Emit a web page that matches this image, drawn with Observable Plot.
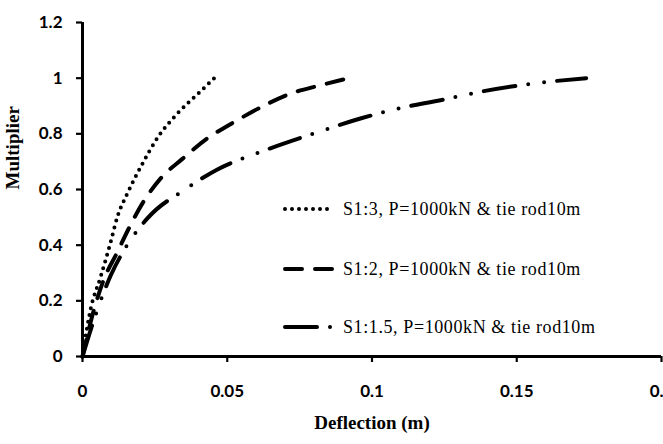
<!DOCTYPE html>
<html>
<head>
<meta charset="utf-8">
<script src="https://cdn.jsdelivr.net/npm/d3@7"></script>
<script src="https://cdn.jsdelivr.net/npm/@observablehq/plot@0.6"></script>
<style>
  html, body { margin: 0; padding: 0; background: #fff; overflow: hidden; }
  #wrap { position: relative; width: 663px; height: 444px; }
  #legend { position: absolute; left: 283px; top: 0; font-family: "Liberation Serif", "Times New Roman", serif; font-size: 18px; letter-spacing: 0.6px; color: #000; }
  .item { position: absolute; left: 0; display: flex; align-items: center; white-space: nowrap; }
  .item svg { display: block; margin-right: 8px; }
</style>
</head>
<body>
<div id="wrap"><div id="legend"></div></div>
<script>
// Series S1:3 (dotted)
const s13Deflection = [0, 0.0028, 0.0062, 0.0097, 0.012, 0.0155, 0.020, 0.026, 0.0328, 0.040, 0.0455];
const s13Multiplier = [0, 0.17, 0.284, 0.41, 0.50, 0.586, 0.679, 0.787, 0.873, 0.945, 1.0];
// Series S1:2 (dashed)
const s12Deflection = [0, 0.004, 0.0075, 0.012, 0.0155, 0.0207, 0.027, 0.0345, 0.043, 0.052, 0.0615, 0.072, 0.082, 0.092];
const s12Multiplier = [0, 0.17, 0.28, 0.374, 0.45, 0.55, 0.64, 0.71, 0.783, 0.84, 0.895, 0.945, 0.974, 1.0];
// Series S1:1.5 (dash-dot-dot)
const s115Deflection = [0, 0.0052, 0.0097, 0.0148, 0.0224, 0.036, 0.0466, 0.062, 0.0795, 0.096, 0.1075, 0.1247, 0.1364, 0.153, 0.174];
const s115Multiplier = [0, 0.17, 0.29, 0.39, 0.496, 0.604, 0.672, 0.737, 0.80, 0.855, 0.887, 0.923, 0.949, 0.977, 1.0];

const seriesNames = ["S1:3, P=1000kN & tie rod10m", "S1:2, P=1000kN & tie rod10m", "S1:1.5, P=1000kN & tie rod10m"];
const xTicks = [0, 0.05, 0.1, 0.15, 0.2];
const yTicks = [0, 0.2, 0.4, 0.6, 0.8, 1, 1.2];
const xTitle = "Deflection (m)";
const yTitle = "Multiplier";

const dashes = ["0,7", "17,13", "32,13,0,16,0,13"];

const toRows = (xs, ys, name) => xs.map((x, i) => ({x, y: ys[i], name}));
const rows = [
  toRows(s13Deflection, s13Multiplier, seriesNames[0]),
  toRows(s12Deflection, s12Multiplier, seriesNames[1]),
  toRows(s115Deflection, s115Multiplier, seriesNames[2])
];

const tickFont = "Lato, 'Open Sans', sans-serif";

const chart = Plot.plot({
  width: 663,
  height: 444,
  marginLeft: 82,
  marginRight: 2,
  marginTop: 22,
  marginBottom: 88,
  style: { background: "#fff", overflow: "hidden" },
  x: { domain: [0, 0.2] },
  y: { domain: [0, 1.2] },
  marks: [
    Plot.axisY({ticks: yTicks, tickSize: 6, tickPadding: 14, strokeWidth: 2.2, tickFormat: d => String(d), fontSize: 17, fontWeight: "bold", fontFamily: tickFont, label: null}),
    Plot.axisX({ticks: xTicks, tickSize: 6, tickPadding: 22, strokeWidth: 2.2, tickFormat: d => String(d), fontSize: 17, fontWeight: "bold", fontFamily: tickFont, label: null}),
    Plot.ruleY([0], {strokeWidth: 3}),
    Plot.ruleX([0], {strokeWidth: 3}),
    ...rows.map((r, i) => Plot.line(r, {x: "x", y: "y", curve: "monotone-x", stroke: "#000", strokeWidth: 4, strokeLinecap: "round", strokeDasharray: dashes[i]})),
    Plot.text([xTitle], {frameAnchor: "bottom", dy: 72, fontFamily: "'Liberation Serif', serif", fontWeight: "bold", fontSize: 19}),
    Plot.text([yTitle], {frameAnchor: "left", dx: -70, rotate: -90, fontFamily: "'Liberation Serif', serif", fontWeight: "bold", fontSize: 19})
  ]
});
document.getElementById("wrap").prepend(chart);

// Legend
const legend = d3.select("#legend");
const legendTops = [209, 269, 327];
seriesNames.forEach((name, i) => {
  const item = legend.append("div").attr("class", "item").style("top", (legendTops[i] - 12) + "px").style("height", "24px");
  const svg = item.append("svg").attr("width", 52).attr("height", 24);
  svg.append("line").attr("x1", 2).attr("x2", 50).attr("y1", 12).attr("y2", 12)
    .attr("stroke", "#000").attr("stroke-width", 4).attr("stroke-linecap", "round")
    .attr("stroke-dasharray", dashes[i]);
  item.append("span").text(name);
});
</script>
</body>
</html>
